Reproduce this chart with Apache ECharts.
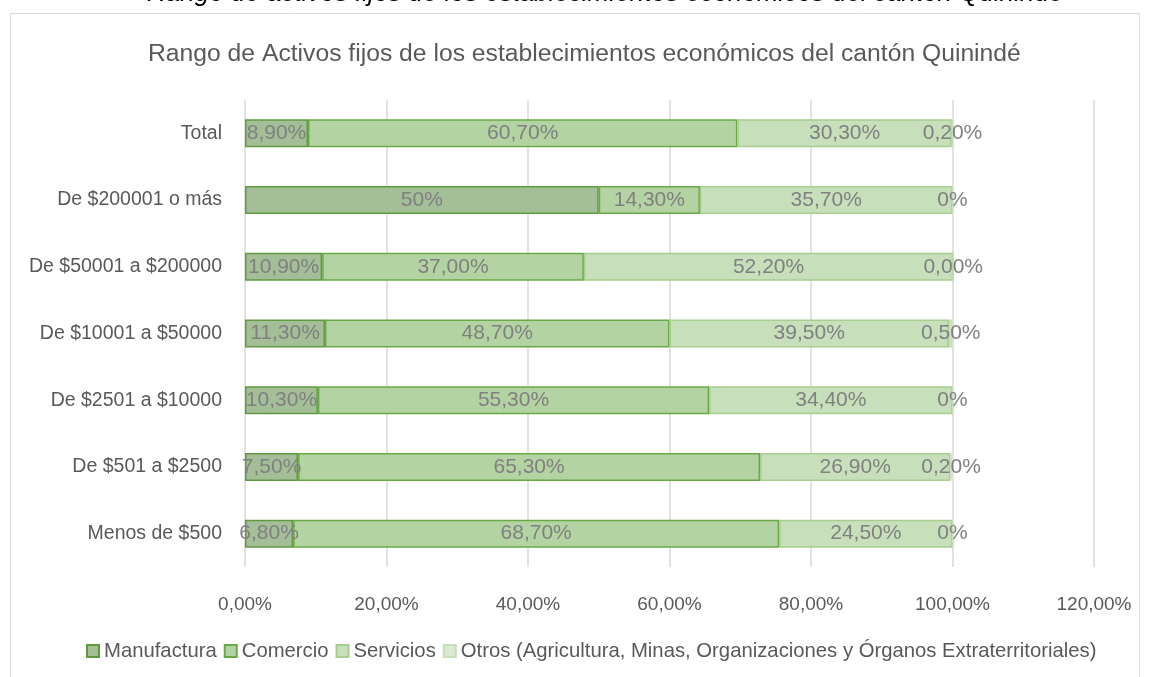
<!DOCTYPE html>
<html>
	<head>
		<meta charset="UTF-8">
		<title>Rango de Activos fijos</title>
		<script src="https://cdn.jsdelivr.net/npm/echarts@6/dist/echarts.min.js"></script>
		<style>
			html, body { margin: 0; padding: 0; background: #fff; }
		</style>
	</head>
	<body>
		<div id="main" style="width: 1149px;height:677px;"></div>
		<script type="text/javascript">
		var FONT = '"Liberation Sans", Arial, sans-serif';

		// categories, bottom to top
		var categorias = ['Menos de $500', 'De $501 a $2500', 'De $2501 a $10000', 'De $10001 a $50000',
			'De $50001 a $200000', 'De $200001 o más', 'Total'];

		var manufactura = [6.8, 7.5, 10.3, 11.3, 10.9, 50, 8.9];
		var comercio = [68.7, 65.3, 55.3, 48.7, 37.0, 14.3, 60.7];
		var servicios = [24.5, 26.9, 34.4, 39.5, 52.2, 35.7, 30.3];
		var otros = [0, 0.2, 0, 0.5, 0.0, 0, 0.2];

		// label text as printed in the source
		var etqManufactura = ['6,80%', '7,50%', '10,30%', '11,30%', '10,90%', '50%', '8,90%'];
		var etqComercio = ['68,70%', '65,30%', '55,30%', '48,70%', '37,00%', '14,30%', '60,70%'];
		var etqServicios = ['24,50%', '26,90%', '34,40%', '39,50%', '52,20%', '35,70%', '30,30%'];
		var etqOtros = ['0%', '0,20%', '0%', '0,50%', '0,00%', '0%', '0,20%'];

		var xTicks = [0, 20, 40, 60, 80, 100, 120];

		var nombres = ['Manufactura', 'Comercio', 'Servicios',
			'Otros (Agricultura, Minas, Organizaciones y Órganos Extraterritoriales)'];

		function serie(nombre, datos, etiquetas, fill, borde) {
			return {
				name: nombre,
				type: 'bar',
				stack: 'total',
				barCategoryGap: '58%',
				data: datos,
				itemStyle: { color: fill, borderColor: borde, borderWidth: 1.5 },
				label: {
					show: true,
					position: 'inside',
					color: '#808080',
					fontFamily: FONT,
					fontSize: 21,
					formatter: function (p) { return etiquetas[p.dataIndex]; }
				}
			};
		}

		var myChart = echarts.init(document.getElementById('main'));
		var option = {
			animation: false,
			backgroundColor: '#fff',
			title: {
				text: 'Rango de Activos fijos de los establecimientos económicos del cantón Quinindé',
				left: 143,
				top: 37,
				textStyle: { color: '#595959', fontFamily: FONT, fontWeight: 'normal', fontSize: 24.7 }
			},
			graphic: [
				{
					type: 'rect',
					shape: { x: 10.5, y: 13.5, width: 1129, height: 700 },
					style: { fill: 'none', stroke: '#d9d9d9', lineWidth: 1 },
					z: -1
				},
				{
					type: 'text',
					left: 147,
					top: -19,
					style: {
						text: 'Rango de activos fijos de los establecimientos económicos del cantón Quinindé',
						fill: '#000',
						font: 'italic 26px ' + FONT
					}
				}
			],
			legend: {
				data: nombres,
				left: 81,
				top: 636,
				itemWidth: 12,
				itemHeight: 12,
				itemGap: 7,
				icon: 'rect',
				textStyle: { color: '#595959', fontFamily: FONT, fontSize: 20.3 }
			},
			grid: { left: 245, right: 55, top: 100, bottom: 110, containLabel: false },
			xAxis: {
				type: 'value',
				min: xTicks[0],
				max: xTicks[xTicks.length - 1],
				interval: 20,
				axisLine: { show: false },
				axisTick: { show: false },
				splitLine: { lineStyle: { color: '#d9d9d9', width: 1.5 } },
				axisLabel: {
					color: '#595959', fontFamily: FONT, fontSize: 19, margin: 28,
					formatter: function (v) { return v.toFixed(2).replace('.', ',') + '%'; }
				}
			},
			yAxis: {
				type: 'category',
				data: categorias,
				axisLine: { show: false },
				axisTick: { show: false },
				axisLabel: { color: '#595959', fontFamily: FONT, fontSize: 19.5, margin: 23 }
			},
			series: [
				serie(nombres[0], manufactura, etqManufactura, '#a4be98', '#5f9a40'),
				serie(nombres[1], comercio, etqComercio, '#b3d3a3', '#6aaa46'),
				serie(nombres[2], servicios, etqServicios, '#c7dfbb', '#a5ce8f'),
				serie(nombres[3], otros, etqOtros, '#dae9d2', '#c6dfba')
			]
		};
		myChart.setOption(option);
		</script>
	</body>
</html>
